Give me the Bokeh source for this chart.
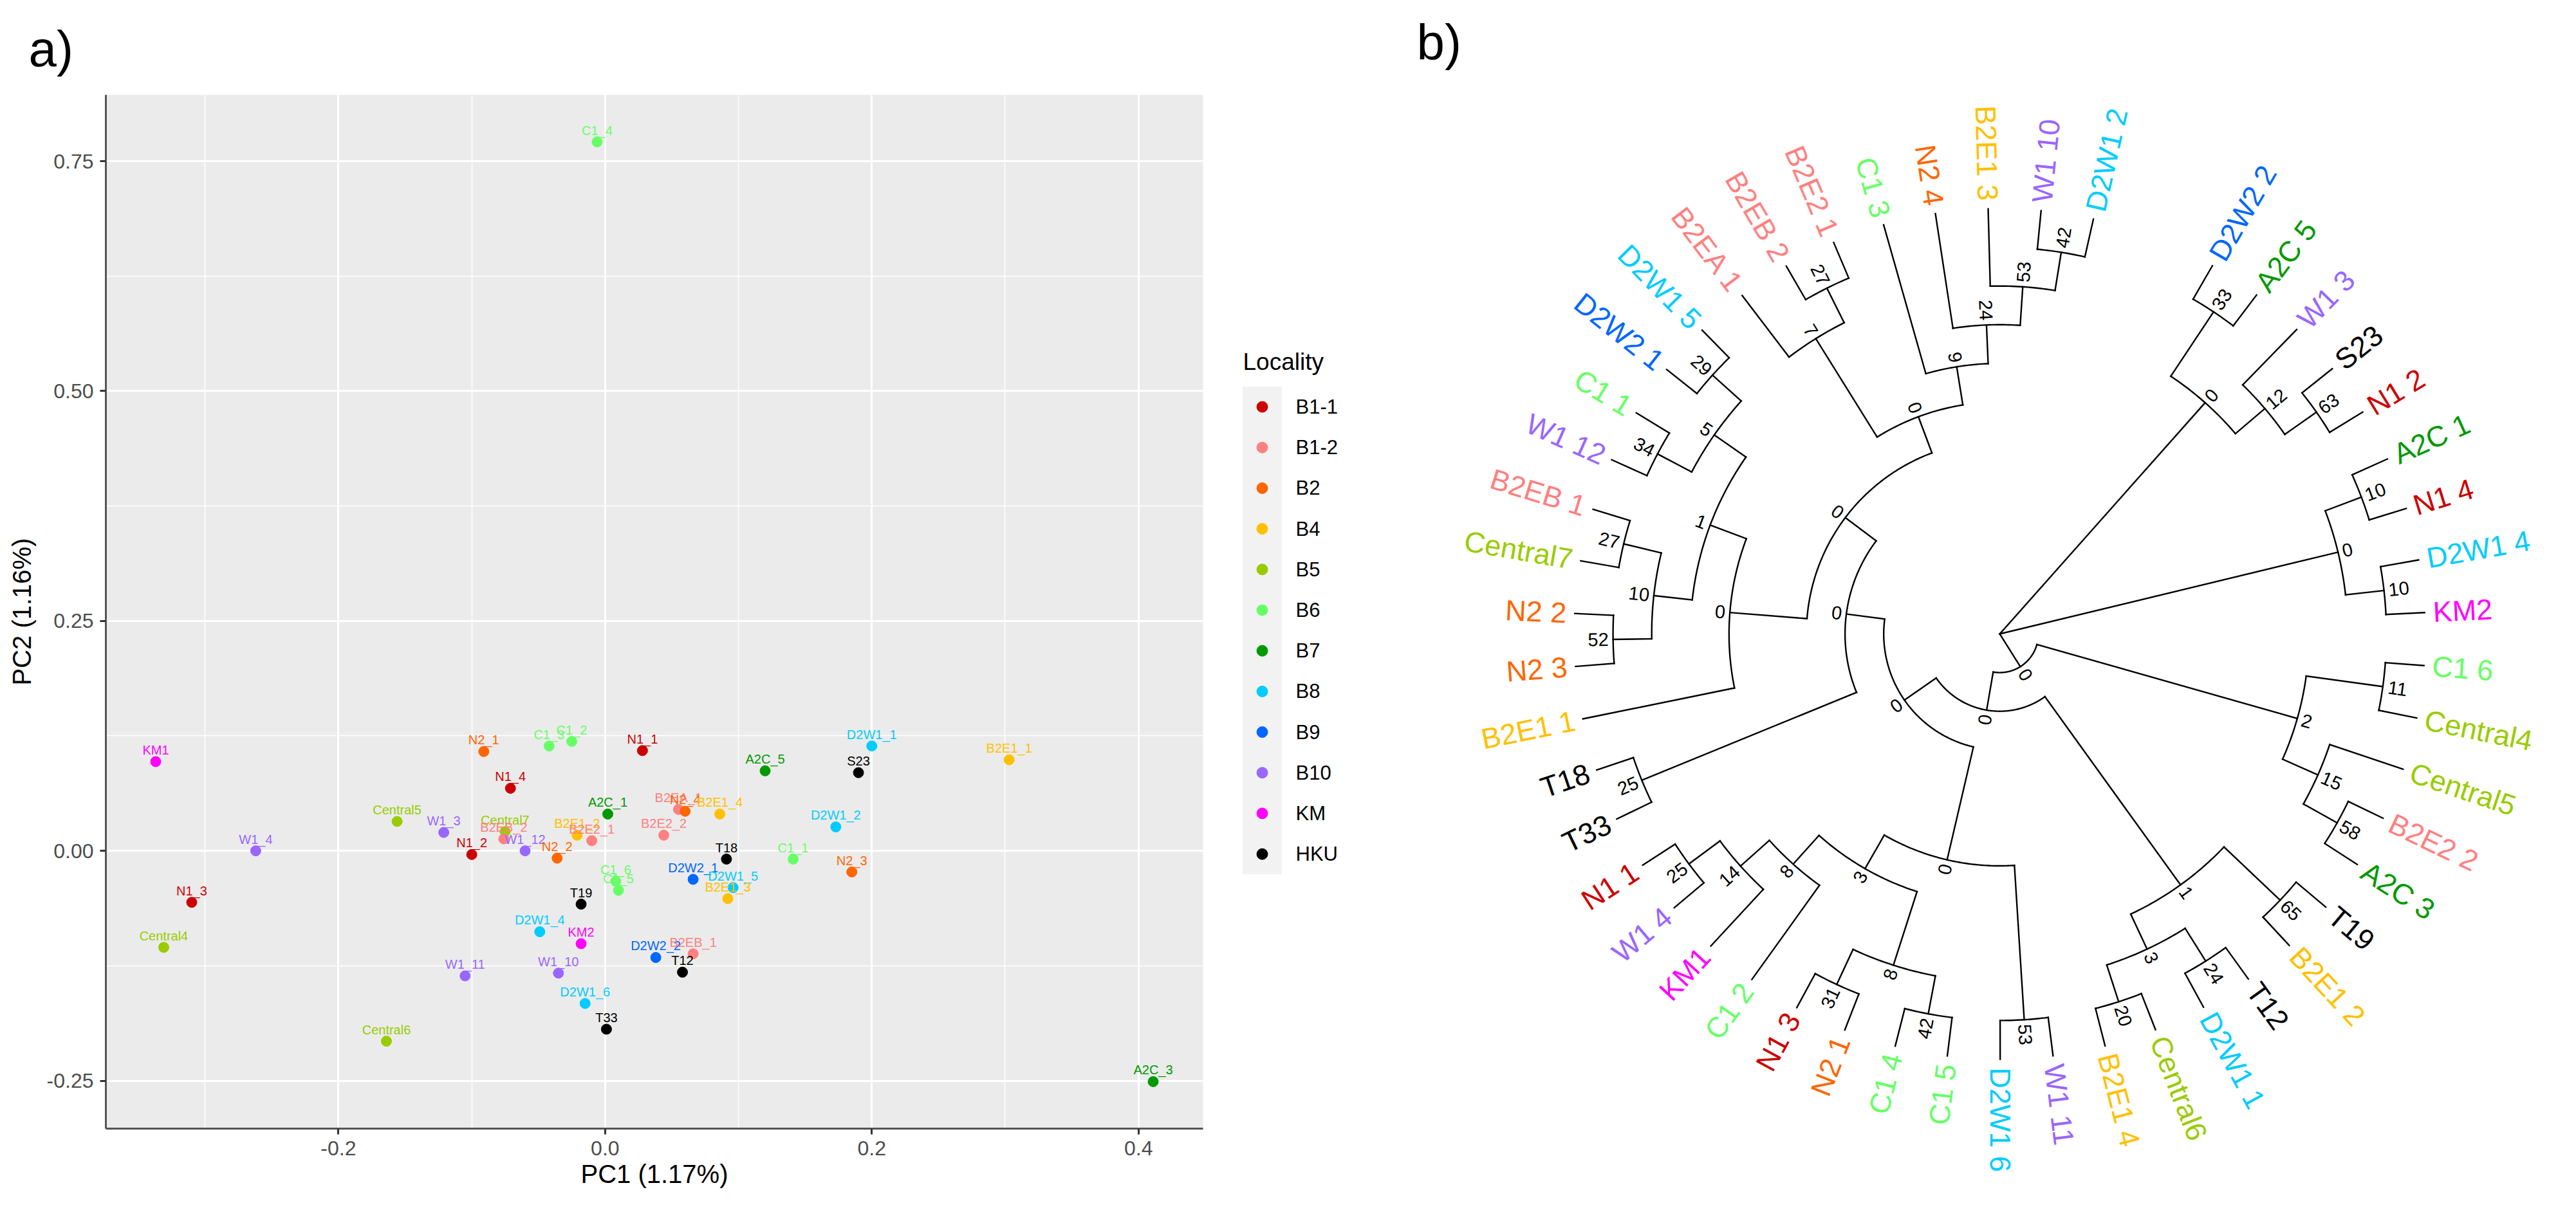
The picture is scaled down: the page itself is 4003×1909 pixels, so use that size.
import math
from bokeh.plotting import figure
from bokeh.models import Range1d, FixedTicker, PrintfTickFormatter, Title
from bokeh.layouts import row
from bokeh.embed import file_html
from bokeh.resources import INLINE
from bokeh.core.properties import value

# ---------------- data ----------------
localities = ["B1-1", "B1-2", "B2", "B4", "B5", "B6", "B7", "B8", "B9", "B10", "KM", "HKU"]
locality_colors = ["#CC0000", "#FF8080", "#FF6600", "#FFC000", "#99CC00", "#66FF66",
                   "#009900", "#00CCFF", "#0066FF", "#9966FF", "#FF00FF", "#000000"]

samples = ["C1_4", "KM1", "W1_4", "N1_3", "Central4", "Central5", "Central6", "W1_3",
           "Central7", "B2EB_2", "N1_2", "W1_12", "N2_1", "C1_3", "C1_2", "N1_1", "N1_4",
           "A2C_1", "B2E1_2", "B2E2_1", "N2_2", "B2E2_2", "B2EA_1", "N2_4", "B2E1_4",
           "A2C_5", "S23", "D2W1_1", "B2E1_1", "D2W1_2", "T18", "C1_1", "N2_3", "D2W2_1",
           "D2W1_5", "B2E1_3", "C1_6", "C1_5", "T19", "D2W1_4", "KM2", "D2W2_2", "B2EB_1",
           "T12", "W1_11", "W1_10", "D2W1_6", "T33", "A2C_3"]
sample_locality = ["B6", "KM", "B10", "B1-1", "B5", "B5", "B5", "B10",
                   "B5", "B1-2", "B1-1", "B10", "B2", "B6", "B6", "B1-1", "B1-1",
                   "B7", "B4", "B1-2", "B2", "B1-2", "B1-2", "B2", "B4",
                   "B7", "HKU", "B8", "B4", "B8", "HKU", "B6", "B2", "B9",
                   "B8", "B4", "B6", "B6", "HKU", "B8", "KM", "B9", "B1-2",
                   "HKU", "B10", "B10", "B8", "HKU", "B7"]
pc1 = [-0.006, -0.337, -0.262, -0.310, -0.331, -0.156, -0.164, -0.121,
       -0.075, -0.076, -0.100, -0.060, -0.091, -0.042, -0.025, 0.028, -0.071,
       0.002, -0.021, -0.010, -0.036, 0.044, 0.055, 0.060, 0.086,
       0.120, 0.190, 0.200, 0.303, 0.173, 0.091, 0.141, 0.185, 0.066,
       0.096, 0.092, 0.008, 0.010, -0.018, -0.049, -0.018, 0.038, 0.066,
       0.058, -0.105, -0.035, -0.015, 0.001, 0.411]
pc2 = [0.771, 0.097, 0.000, -0.056, -0.105, 0.032, -0.207, 0.020,
       0.021, 0.013, -0.004, 0.000, 0.108, 0.114, 0.119, 0.109, 0.068,
       0.040, 0.017, 0.011, -0.008, 0.017, 0.045, 0.043, 0.040,
       0.087, 0.085, 0.114, 0.099, 0.026, -0.009, -0.009, -0.023, -0.031,
       -0.040, -0.052, -0.033, -0.043, -0.058, -0.088, -0.101, -0.116, -0.112,
       -0.132, -0.136, -0.133, -0.166, -0.194, -0.251]

x_ticks = [-0.2, 0.0, 0.2, 0.4]
x_minor = [-0.3, -0.1, 0.1, 0.3]
y_ticks = [-0.25, 0.0, 0.25, 0.5, 0.75]
y_minor = [-0.125, 0.125, 0.375, 0.625]
x_title = "PC1 (1.17%)"
y_title = "PC2 (1.16%)"
legend_title = "Locality"

# dendrogram topology (newick, internal labels = bootstrap support)
clade_A = "((D2W2_2,A2C_5)33,(W1_3,(S23,N1_2)63)12)0"
clade_B = "((A2C_1,N1_4)10,(D2W1_4,KM2)10)0"
clade_two = "((C1_6,Central4)11,(Central5,(B2E2_2,A2C_3)58)15)2"
clade_one = "((T19,B2E1_2)65,((T12,D2W1_1)24,(Central6,B2E1_4)20)3)1"
clade_O = "(((C1_5,C1_4)42,(N2_1,N1_3)31)8,(C1_2,(KM1,(W1_4,N1_1)25)14)8)3"
clade_W = "((W1_11,D2W1_6)53," + clade_O + ")0"
clade_R = "(((N2_3,N2_2)52,(Central7,B2EB_1)27)10,((W1_12,C1_1)34,(D2W2_1,D2W1_5)29)5)1"
clade_T = "(B2E1_1," + clade_R + ")0"
clade_S = "((B2EA_1,(B2EB_2,B2E2_1)27)7,(C1_3,(N2_4,(B2E1_3,(W1_10,D2W1_2)42)53)24)9)0"
clade_V = "((T33,T18)25,(" + clade_T + "," + clade_S + ")0)0"
clade_Y = "(" + clade_one + ",(" + clade_W + "," + clade_V + ")0)0"
clade_X = "(" + clade_two + "," + clade_Y + ")0"
newick = "(" + clade_A + "," + clade_B + "," + clade_X + ");"

# ---------------- styling ----------------
FONT = "Liberation Sans"
color_of_loc = dict(zip(localities, locality_colors))
color_of_sample = {s: color_of_loc[l] for s, l in zip(samples, sample_locality)}

# ---------------- panel a: PCA ----------------
def expand(vals, f=0.05):
    lo, hi = min(vals), max(vals)
    d = (hi - lo) * f
    return lo - d, hi + d

xr = expand(pc1)
yr = expand(pc2)
pa = figure(width=1920, height=1893, x_range=Range1d(*xr), y_range=Range1d(*yr),
            output_backend="svg", toolbar_location=None, title=None,
            min_border_left=164, min_border_right=51, min_border_top=147, min_border_bottom=139)
pa.background_fill_color = "#EBEBEB"
pa.border_fill_color = "white"
pa.outline_line_color = None

xt = FixedTicker(ticks=x_ticks, minor_ticks=x_minor)
yt = FixedTicker(ticks=y_ticks, minor_ticks=y_minor)
pa.xaxis.ticker = xt
pa.yaxis.ticker = yt
pa.xgrid.ticker = xt
pa.ygrid.ticker = yt
pa.xaxis.formatter = PrintfTickFormatter(format="%.1f")
pa.yaxis.formatter = PrintfTickFormatter(format="%.2f")
for g in (pa.xgrid, pa.ygrid):
    g.grid_line_color = "white"
    g.grid_line_width = 3
    g.minor_grid_line_color = "white"
    g.minor_grid_line_width = 1.5
for ax in (pa.xaxis, pa.yaxis):
    ax.axis_line_color = "#555555"
    ax.axis_line_width = 3
    ax.major_tick_line_color = "#333333"
    ax.major_tick_line_width = 3
    ax.major_tick_out = 9
    ax.major_tick_in = 0
    ax.minor_tick_line_color = None
    ax.major_label_text_font = FONT
    ax.major_label_text_font_size = "32px"
    ax.major_label_text_color = "#4D4D4D"
    ax.major_label_standoff = 10
    ax.axis_label_text_font = FONT
    ax.axis_label_text_font_size = "40px"
    ax.axis_label_text_font_style = "normal"
    ax.axis_label_text_color = "black"
pa.xaxis.axis_label = x_title
pa.yaxis.axis_label = y_title
pa.xaxis.axis_label_standoff = 4
pa.yaxis.axis_label_standoff = 14

pt_colors = [color_of_loc[l] for l in sample_locality]
pa.scatter(pc1, pc2, size=16, fill_color=pt_colors, line_color=pt_colors)
pa.text(pc1, pc2, text=samples, text_color=pt_colors, text_font=value(FONT),
        text_font_size="20px", text_align="center", text_baseline="middle", y_offset=-18)

pa.add_layout(Title(text="a)", align="left", offset=-120, standoff=55,
                    text_font=FONT, text_font_size="78px", text_font_style="normal",
                    text_color="black"), "above")

# ---------------- panel b: circular dendrogram + legend ----------------
WB, HB = 2065, 1893
CX0, CY0 = 1187, 985          # centre of the tree inside panel b (px from left / top)
pb = figure(width=WB, height=HB, x_range=Range1d(-CX0, WB - CX0), y_range=Range1d(CY0 - HB, CY0),
            output_backend="svg", toolbar_location=None, title=None,
            x_axis_type=None, y_axis_type=None, min_border=0)
pb.grid.visible = False
pb.outline_line_color = None
pb.background_fill_color = "white"
pb.border_fill_color = "white"

# keep each panel's own frame (no frame alignment across the row)
for fig in (pa, pb):
    if "frame_align" in fig.properties():
        fig.frame_align = False


def parse_newick(s):
    pos = 0

    def node():
        nonlocal pos
        if s[pos] == "(":
            pos += 1
            kids = [node()]
            while s[pos] == ",":
                pos += 1
                kids.append(node())
            pos += 1
            st = pos
            while s[pos] not in ",);":
                pos += 1
            return {"name": None, "label": s[st:pos], "children": kids}
        st = pos
        while s[pos] not in ",);":
            pos += 1
        return {"name": s[st:pos], "label": "", "children": []}
    return node()


tree = parse_newick(newick)
counter = [0]


def layout(n):
    if not n["children"]:
        n["idx"] = counter[0]
        counter[0] += 1
        n["h"] = 0
    else:
        for c in n["children"]:
            layout(c)
        n["idx"] = sum(c["idx"] for c in n["children"]) / len(n["children"])
        n["h"] = 1 + max(c["h"] for c in n["children"])


layout(tree)
H = tree["h"]
R_TIP = 661.0
THETA0, STEP = 60.0, 7.14


def rad(n):
    return (H - n["h"]) / H * R_TIP


def ang(n):
    return math.radians(THETA0 - STEP * n["idx"])


paths_x, paths_y = [], []
nodes = []


def collect(n):
    rn = rad(n)
    if n["children"]:
        angs = [ang(c) for c in n["children"]]
        if rn > 0:
            a0, a1 = min(angs), max(angs)
            k = max(2, int(math.degrees(a1 - a0) / 0.5) + 1)
            ts = [a0 + (a1 - a0) * i / (k - 1) for i in range(k)]
            paths_x.append([rn * math.cos(t) for t in ts])
            paths_y.append([rn * math.sin(t) for t in ts])
        for c in n["children"]:
            a = ang(c)
            rc = rad(c)
            paths_x.append([rn * math.cos(a), rc * math.cos(a)])
            paths_y.append([rn * math.sin(a), rc * math.sin(a)])
            collect(c)
    nodes.append(n)


collect(tree)
LW = 2.4
pb.multi_line(paths_x, paths_y, line_color="black", line_width=LW,
              line_cap="square", line_join="miter")


def flip(a):
    d = math.degrees(a) % 360
    return 90 < d < 270


# tip labels
TIP_FS = 45
for side in (False, True):
    xs, ys, ts, cs, rs = [], [], [], [], []
    for n in nodes:
        if n["children"]:
            continue
        a = ang(n)
        if flip(a) != side:
            continue
        r = R_TIP + 13
        xs.append(r * math.cos(a)); ys.append(r * math.sin(a))
        ts.append(n["name"].replace("_", " "))
        cs.append(color_of_sample[n["name"]])
        rs.append(a + math.pi if side else a)
    pb.text(xs, ys, text=ts, angle=rs, text_color=cs, text_font=value(FONT),
            text_font_size=f"{TIP_FS}px", text_baseline="middle",
            text_align="right" if side else "left")

# bootstrap labels
BS_FS = 29
xs, ys, ts, rs = [], [], [], []
for n in nodes:
    if not n["children"] or n is tree or n["label"] == "":
        continue
    a = ang(n)
    r = rad(n) + 7 + 0.556 * BS_FS * len(n["label"]) / 2
    xs.append(r * math.cos(a)); ys.append(r * math.sin(a))
    ts.append(n["label"])
    rs.append(a + math.pi if flip(a) else a)
pb.text(xs, ys, text=ts, angle=rs, text_color="black", text_font=value(FONT),
        text_font_size=f"{BS_FS}px", text_baseline="middle", text_align="center")

# panel label
pb.text(x=[-906], y=[964], text=["b)"], text_font=value(FONT), text_font_size="78px",
        text_baseline="top", text_align="left", text_color="black")

# legend of panel a (drawn at the left of panel b's canvas)
KEY_X, KEY_W = -1146, 61
KEY_Y0, KEY_DY = 353, 63.2
nk = len(localities)
key_y = [KEY_Y0 - KEY_DY * i for i in range(nk)]
pb.rect(x=[KEY_X], y=[(key_y[0] + key_y[-1]) / 2], width=KEY_W,
        height=KEY_DY * nk, fill_color="#F2F2F2", line_color=None)
pb.scatter([KEY_X] * nk, key_y, size=17, fill_color=locality_colors, line_color=locality_colors)
pb.text([KEY_X + 52] * nk, key_y, text=localities, text_font=value(FONT),
        text_font_size="31px", text_baseline="middle", text_align="left", text_color="black")
pb.text([KEY_X - 30], [KEY_Y0 + 70], text=[legend_title], text_font=value(FONT),
        text_font_size="37px", text_baseline="middle", text_align="left", text_color="black")

layout_all = row(pa, pb)
open("out.html", "w").write(file_html(layout_all, INLINE))
